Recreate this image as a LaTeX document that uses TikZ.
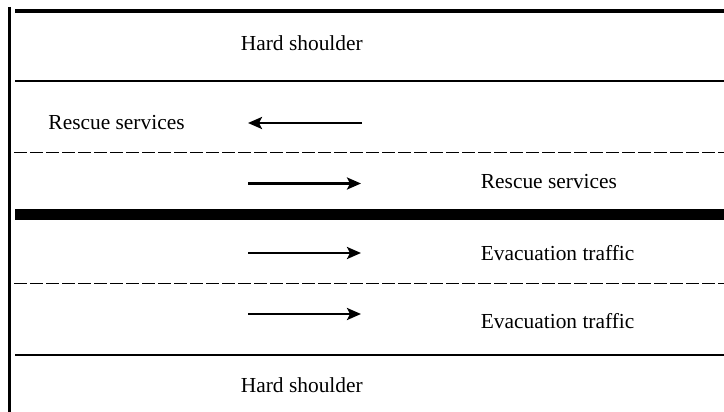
\documentclass[tikz,border=0pt]{standalone}
\usepackage{fontspec}
\setmainfont{Liberation Serif}
\usetikzlibrary{arrows.meta}
\begin{document}
\begin{tikzpicture}[x=1pt,y=-1pt,
  lanelabel/.style={anchor=base west,inner sep=0pt,font=\fontsize{21.4}{24}\selectfont},
  edgeline/.style={line width=2.4pt},
  laneline/.style={line width=1.4pt,dash pattern=on 13pt off 3pt},
  median/.style={line width=11pt},
  flow/.style={line width=2.5pt,-{Stealth[length=14pt,width=12pt,inset=3pt]}}]
\useasboundingbox (0,0) rectangle (724,412);
% carriageway edges
\draw[line width=3pt] (9,7) -- (9,412);
\draw[line width=4.5pt] (15,11) -- (724,11);
\draw[edgeline] (15,81) -- (724,81);
\draw[laneline] (14,152.7) -- (724,152.7);
\draw[median] (15,214.5) -- (724,214.5);
\draw[laneline] (14,283.3) -- (724,283.3);
\draw[edgeline] (15,355) -- (724,355);
% lane labels
\node[lanelabel] (hs1) at (240.7,51) {Hard shoulder};
\node[lanelabel] (rs1) at (48.3,130) {Rescue services};
\node[lanelabel] (rs2) at (480.7,188.3) {Rescue services};
\node[lanelabel] (ev1) at (480.7,260.5) {Evacuation traffic};
\node[lanelabel] (ev2) at (480.7,328.5) {Evacuation traffic};
\node[lanelabel] (hs2) at (240.7,392) {Hard shoulder};
% traffic directions
\coordinate (a1s) at (362,123);  \coordinate (a1e) at (248,123);
\coordinate (a2s) at (248,183.5); \coordinate (a2e) at (361,183.5);
\coordinate (a3s) at (248,253);  \coordinate (a3e) at (361,253);
\coordinate (a4s) at (248,314);  \coordinate (a4e) at (361,314);
\draw[flow] (a1s) -- (a1e);
\draw[flow] (a2s) -- (a2e);
\draw[flow] (a3s) -- (a3e);
\draw[flow] (a4s) -- (a4e);
\end{tikzpicture}
\end{document}
